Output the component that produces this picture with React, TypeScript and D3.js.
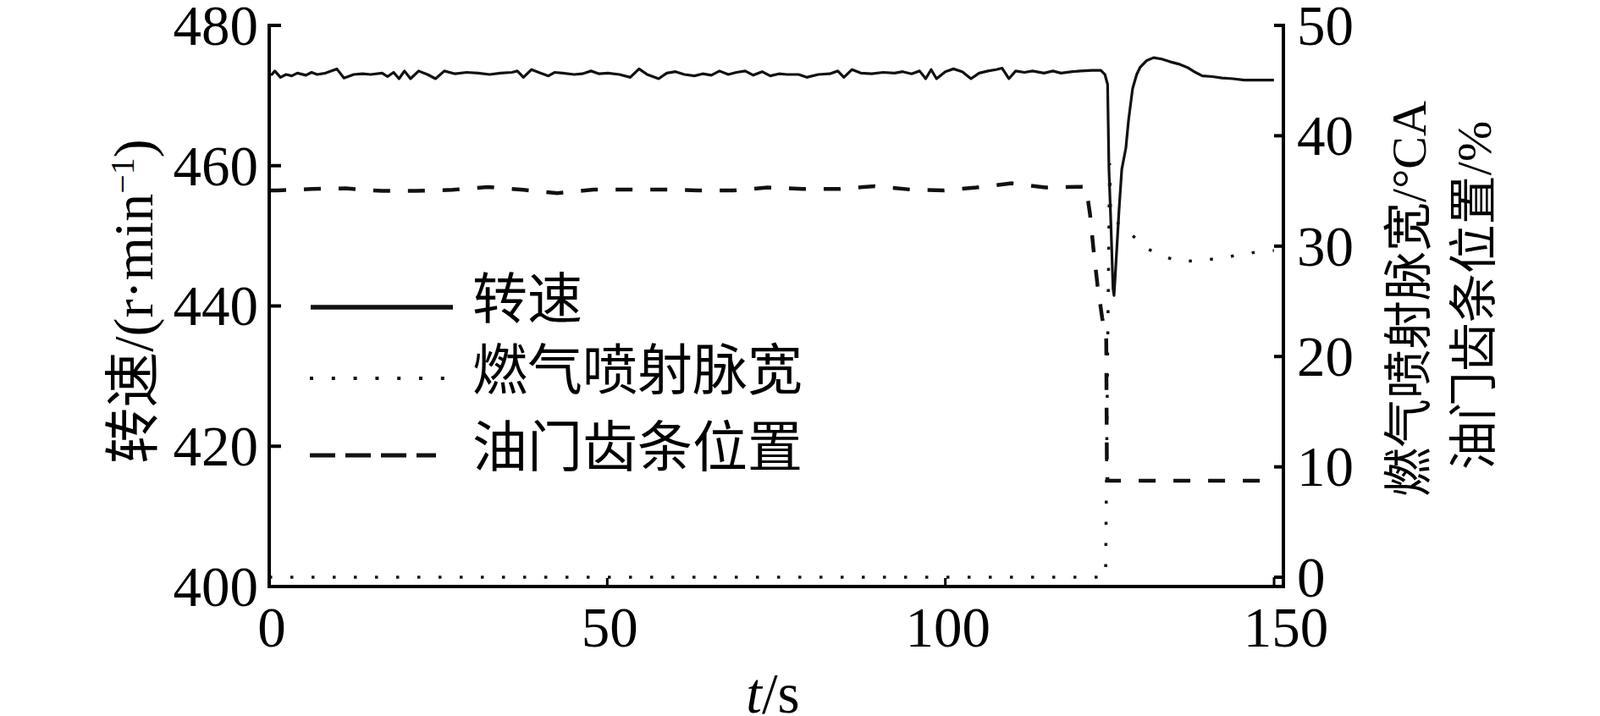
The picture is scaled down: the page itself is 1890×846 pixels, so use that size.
import React, { useEffect, useRef } from "react";
import * as d3 from "d3";

// time axis (s)
const speedT = [
  0, 0.4, 0.83, 1.67, 2.5, 3.34, 4.17, 5.43, 6.26, 7.1, 8.35, 10.0, 11.06, 12.5, 13.8, 15.0,
  16.7, 17.5, 18.4, 19.2, 20.0, 20.9, 22.1, 23.4, 24.6, 25.9, 27.5, 29.2, 30.9, 32.6, 34.2,
  35.9, 36.7, 37.6, 38.8, 40.1, 41.3, 42.2, 43.4, 45.1, 46.3, 47.6, 48.8, 50.1, 51.8, 53.4,
  54.7, 55.9, 57.6, 58.8, 60.1, 61.4, 62.9, 64.1, 65.4, 66.6, 67.9, 69.1, 70.4, 71.6, 72.9,
  74.1, 75.4, 76.6, 78.3, 79.5, 81.2, 82.9, 84.1, 85.0, 86.2, 87.5, 89.1, 90.8, 92.5, 93.7,
  95.0, 96.2, 97.1, 97.9, 98.7, 100.0, 101.2, 102.5, 103.8, 105.0, 106.3, 107.5, 108.4,
  109.4, 110.4, 111.7, 112.9, 114.6, 115.9, 117.1, 118.8, 120.0, 121.7, 123.0, 123.6,
  124.0, 124.2, 124.5, 124.8, 124.95, 125.1, 125.7, 126.1, 126.7, 127.1, 127.7, 128.3,
  128.8, 129.8, 130.8, 132.0, 133.3, 134.5, 135.8, 137.0, 138.0, 139.5, 140.9, 142.5,
  144.2, 146.0, 148.6,
];
// 转速 r/min
const speedV = [
  473.0, 473.0, 473.5, 472.6, 473.0, 472.8, 473.2, 472.9, 473.3, 473.0, 473.2, 473.8, 472.5,
  473.0, 473.1, 473.0, 473.2, 472.7, 473.3, 472.4, 473.5, 472.4, 473.5, 473.0, 472.4, 473.5,
  473.1, 473.3, 473.2, 473.0, 473.2, 473.3, 473.5, 472.6, 473.7, 473.2, 472.8, 473.3, 473.2,
  473.0, 473.1, 473.5, 473.1, 473.2, 473.0, 472.6, 473.8, 473.0, 472.4, 473.2, 473.4, 473.0,
  472.8, 473.1, 472.9, 473.5, 473.0, 473.3, 473.5, 472.9, 473.4, 472.8, 473.1, 473.0, 473.0,
  472.6, 473.0, 473.1, 473.5, 472.6, 473.7, 473.2, 473.1, 473.3, 473.2, 473.4, 473.1, 473.5,
  472.4, 473.7, 472.4, 473.4, 473.8, 473.4, 472.4, 473.2, 473.5, 473.7, 473.9, 472.4, 473.5,
  473.3, 473.5, 473.2, 473.5, 473.2, 473.4, 473.5, 473.6, 473.6, 473.0, 471.6, 459.5, 451.4,
  442.5, 441.5, 443.8, 453.8, 459.5, 462.5, 466.5, 471.0, 473.0, 474.0, 475.0, 475.4, 475.2,
  474.8, 474.5, 474.0, 473.3, 472.8, 472.7, 472.5, 472.4, 472.2, 472.2, 472.2,
];

// 燃气喷射脉宽 °CA
const pulseT = [0, 123.7, 124.0, 124.3, 124.45, 125.0, 126.0, 127.6, 130.1, 132.0, 134.9, 137.6, 140.6, 142.5, 145.4, 147.6, 148.6];
const pulseV = [0, 0, 20, 37.5, 33, 32.2, 32.0, 31.0, 29.7, 29.1, 28.6, 28.7, 28.9, 29.1, 29.4, 29.6, 29.6];

// 油门齿条位置 %
const rackT = [
  0, 1.25, 6.3, 11.3, 16.7, 21.7, 27.1, 32.3, 37.6, 42.6, 48, 53, 58.2, 63.3, 68.7, 73.7, 78.9,
  84.3, 89.6, 94.8, 99.8, 104.6, 109.8, 114.8, 120, 120.8, 121.4, 121.9, 122.5, 123.2, 123.8,
  123.9, 124.0, 148.6,
];
const rackV = [
  35.05, 35.05, 35.18, 35.23, 35.0, 35.0, 35.1, 35.36, 35.1, 34.8, 35.13, 35.13, 35.13, 35.05,
  35.05, 35.31, 35.18, 35.18, 35.43, 35.13, 35.05, 35.31, 35.69, 35.31, 35.38, 35.4, 32.9, 29.8,
  26.5, 23.5, 21.5, 9.5, 8.74, 8.74,
];

const xTicks = [0, 50, 100, 150];
const leftTicks = [400, 420, 440, 460, 480];
const rightTicks = [0, 10, 20, 30, 40, 50];
const legendNames = ["转速", "燃气喷射脉宽", "油门齿条位置"];

const W = 1890;
const H = 846;
const FONT = "'Liberation Serif', 'Noto Sans CJK SC', serif";

export default function App() {
  const svgRef = useRef<SVGSVGElement>(null);

  useEffect(() => {
    const svg = d3.select(svgRef.current);
    svg.selectAll("*").remove();

    const left = 318, right = 1516, top = 30, bottom = 693;
    const x = d3.scaleLinear().domain([0, 150]).range([left, right]);
    const yL = d3.scaleLinear().domain([400, 480]).range([bottom, top]);
    const yR = d3.scaleLinear().domain([-0.84, 50]).range([bottom, top]);

    const g = svg.append("g").style("font-family", FONT).attr("fill", "#000");

    // lines
    const lineL = d3.line<number>().x((d, i) => x(speedT[i])).y((d) => yL(d));
    g.append("path")
      .attr("d", lineL(speedV))
      .attr("fill", "none")
      .attr("stroke", "#111")
      .attr("stroke-width", 3.2)
      .attr("stroke-linejoin", "round");

    const linePulse = d3.line<number>().x((d, i) => x(pulseT[i])).y((d) => yR(d));
    g.append("path")
      .attr("d", linePulse(pulseV))
      .attr("fill", "none")
      .attr("stroke", "#111")
      .attr("stroke-width", 3.5)
      .attr("stroke-dasharray", "3.5 21.5");

    const lineRack = d3.line<number>().x((d, i) => x(rackT[i])).y((d) => yR(d));
    g.append("path")
      .attr("d", lineRack(rackV))
      .attr("fill", "none")
      .attr("stroke", "#111")
      .attr("stroke-width", 4.5)
      .attr("stroke-dasharray", "20 21");

    // axes
    const ax = g.append("g").attr("stroke", "#000").attr("stroke-width", 4).attr("fill", "none");
    ax.append("path").attr("d", `M${left},${top}V${bottom}H${right}V${top}`).attr("stroke-linecap", "square");
    leftTicks.forEach((t) => {
      ax.append("line").attr("x1", left).attr("x2", left + 14).attr("y1", yL(t)).attr("y2", yL(t));
    });
    rightTicks.forEach((t) => {
      ax.append("line").attr("x1", right - 11).attr("x2", right).attr("y1", yR(t)).attr("y2", yR(t));
    });
    ax.append("line").attr("x1", right - 11).attr("x2", right - 11).attr("y1", yR(0)).attr("y2", bottom).attr("stroke-width", 3);
    xTicks.slice(1, -1).forEach((t) => {
      ax.append("line").attr("x1", x(t)).attr("x2", x(t)).attr("y1", bottom).attr("y2", bottom - 10).attr("stroke-width", 3);
    });

    // tick labels
    g.selectAll(".lt")
      .data(leftTicks)
      .join("text")
      .attr("x", left - 13)
      .attr("y", (d) => yL(d))
      .attr("dy", "0.34em")
      .attr("text-anchor", "end")
      .style("font-size", "67px")
      .text((d) => d);

    g.selectAll(".rt")
      .data(rightTicks)
      .join("text")
      .attr("x", right + 16)
      .attr("y", (d) => yR(d))
      .attr("dy", "0.34em")
      .style("font-size", "67px")
      .text((d) => d);

    g.selectAll(".xt")
      .data(xTicks)
      .join("text")
      .attr("x", (d) => x(d) + 3)
      .attr("y", 764)
      .attr("text-anchor", "middle")
      .style("font-size", "67px")
      .text((d) => d);

    // axis titles
    const xt = g.append("text").attr("x", (left + right) / 2 - 4).attr("y", 842).attr("text-anchor", "middle").style("font-size", "67px");
    xt.append("tspan").style("font-style", "italic").text("t");
    xt.append("tspan").text("/s");

    const lt = g
      .append("text")
      .attr("transform", `translate(180,356) rotate(-90)`)
      .attr("text-anchor", "middle")
      .style("font-size", "66px");
    lt.append("tspan").text("转速/(r·min");
    lt.append("tspan").attr("dy", "-0.55em").style("font-size", "40px").text("−1");
    lt.append("tspan").attr("dy", "0.33em").text(")");

    g.append("text")
      .attr("transform", `translate(1684,353) rotate(-90)`)
      .attr("text-anchor", "middle")
      .style("font-size", "58px")
      .text("燃气喷射脉宽/°CA");
    g.append("text")
      .attr("transform", `translate(1761,349) rotate(-90)`)
      .attr("text-anchor", "middle")
      .style("font-size", "58px")
      .text("油门齿条位置/%");

    // legend
    const legY = [363, 447, 538];
    const lg = g.append("g");
    lg.append("line").attr("x1", 367).attr("x2", 535).attr("y1", legY[0]).attr("y2", legY[0])
      .attr("stroke", "#111").attr("stroke-width", 5.5);
    lg.append("line").attr("x1", 366).attr("x2", 526).attr("y1", legY[1]).attr("y2", legY[1])
      .attr("stroke", "#111").attr("stroke-width", 4).attr("stroke-dasharray", "4 21.8");
    lg.append("line").attr("x1", 366).attr("x2", 515).attr("y1", legY[2]).attr("y2", legY[2])
      .attr("stroke", "#111").attr("stroke-width", 5).attr("stroke-dasharray", "30 12");
    lg.selectAll("text")
      .data(legendNames)
      .join("text")
      .attr("x", 558)
      .attr("y", (d, i) => legY[i] - 9)
      .attr("dominant-baseline", "central")
      .style("font-size", "65px")
      .text((d) => d);
  }, []);

  return (
    <svg
      ref={svgRef}
      width={W}
      height={H}
      style={{ position: "absolute", left: 0, top: 0, background: "#fff" }}
    />
  );
}
